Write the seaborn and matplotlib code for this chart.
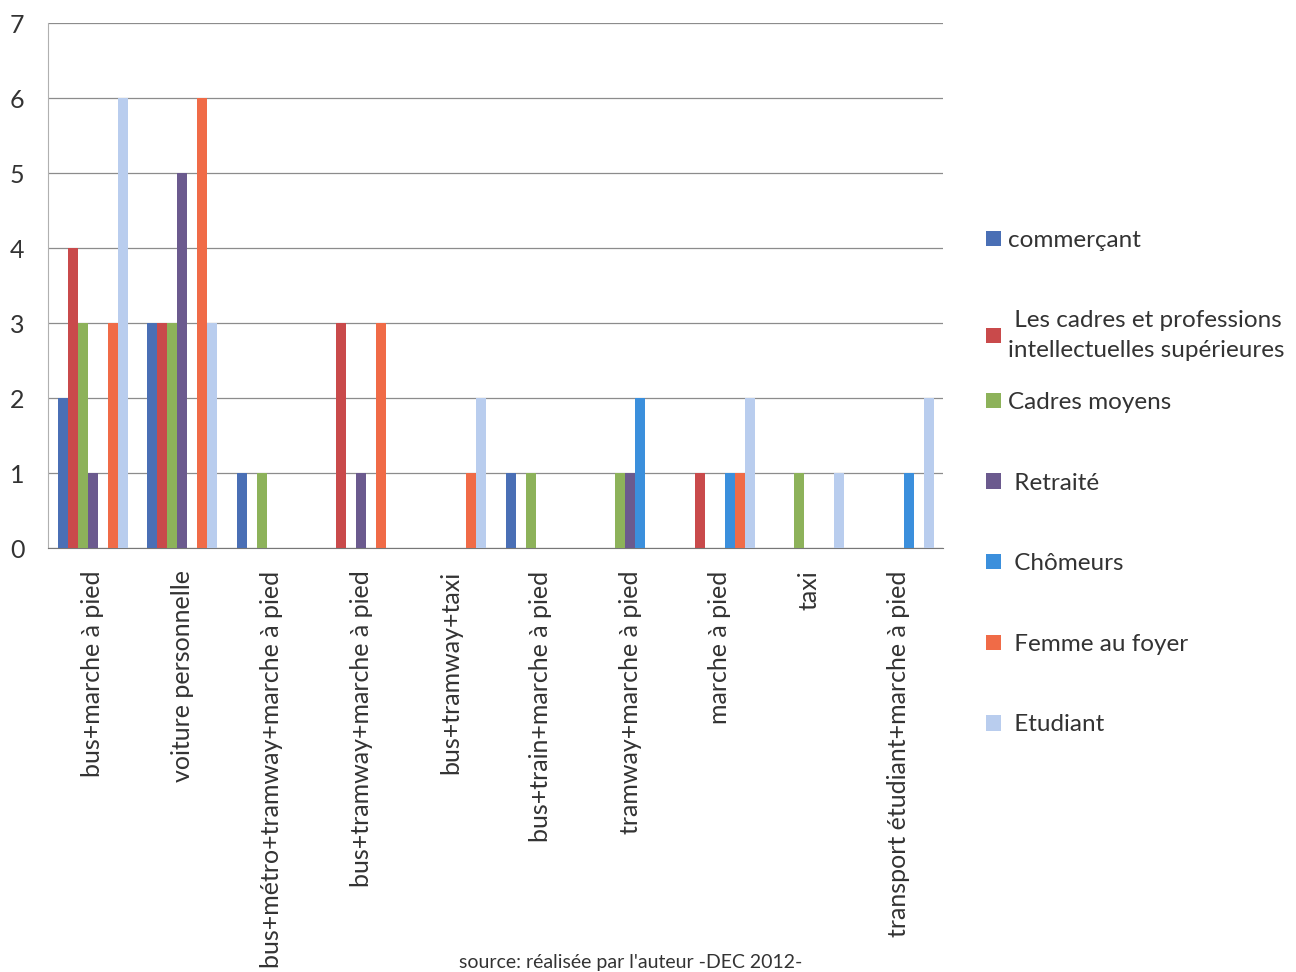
import pandas as pd
import numpy as np
import matplotlib
matplotlib.use('Agg')
import matplotlib.pyplot as plt
import seaborn as sns

# data
modes = ['bus+marche à pied', 'voiture personnelle', 'bus+métro+tramway+marche à pied',
         'bus+tramway+marche à pied', 'bus+tramway+taxi', 'bus+train+marche à pied',
         'tramway+marche à pied', 'marche à pied', 'taxi', 'transport étudiant+marche à pied']
profils = ['commerçant', ' Les cadres et professions\nintellectuelles supérieures', 'Cadres moyens',
           ' Retraité', ' Chômeurs', ' Femme au foyer', ' Etudiant']
commercant = [2, 3, 1, 0, 0, 1, 0, 0, 0, 0]
cadres_sup = [4, 3, 0, 3, 0, 0, 0, 1, 0, 0]
cadres_moyens = [3, 3, 1, 0, 0, 1, 1, 0, 1, 0]
retraite = [1, 5, 0, 1, 0, 0, 1, 0, 0, 0]
chomeurs = [0, 0, 0, 0, 0, 0, 2, 1, 0, 1]
femme_foyer = [3, 6, 0, 3, 1, 0, 0, 1, 0, 0]
etudiant = [6, 3, 0, 0, 2, 0, 0, 2, 1, 2]

colors = ['#4a6fb5', '#c94a4b', '#8db25a', '#6b5a8e', '#3b8fdc', '#f06b47', '#b9cdee']

series = [commercant, cadres_sup, cadres_moyens, retraite, chomeurs, femme_foyer, etudiant]
rows = []
for p, vals in zip(profils, series):
    for m, v in zip(modes, vals):
        rows.append({'mode': m, 'profil': p, 'n': v})
df = pd.DataFrame(rows)

sns.set_style('white')
plt.rcParams['font.family'] = ['Lato', 'DejaVu Sans']

fig = plt.figure(figsize=(12.96, 9.72), dpi=100)
ax = fig.add_axes([0.037, 0.436, 0.691, 0.540])

sns.barplot(data=df, x='mode', y='n', hue='profil', palette=colors, hue_order=profils,
            order=modes, width=0.78, saturation=1, errorbar=None, ax=ax, zorder=3,
            linewidth=0)

ax.set_ylim(0, 7)
ax.set_yticks(range(0, 8))
ax.set_xlim(-0.5, len(modes) - 0.5)
ax.yaxis.grid(True, color='#8c8c8c', linewidth=0.9, zorder=0)
ax.set_axisbelow(True)
ax.set_xlabel('')
ax.set_ylabel('')
ax.tick_params(axis='y', length=0, pad=17, labelsize=18, labelcolor='#333333')
ax.tick_params(axis='x', length=0, pad=16, labelsize=18, labelcolor='#333333')
plt.setp(ax.get_xticklabels(), rotation=90, va='top', ha='center')
for s in ['top', 'right']:
    ax.spines[s].set_visible(False)
ax.spines['left'].set_color('#b0b0b0')
ax.spines['bottom'].set_color('#777777')

# legend in two blocks, spacing like the original
ax.legend_.remove()
handles, labels = ax.get_legend_handles_labels()
kw = dict(loc='upper left', frameon=False, fontsize=17.5, handlelength=0.6, handleheight=0.6,
          handletextpad=0.3, labelspacing=2.45, labelcolor='#333333')
leg1 = fig.legend(handles[:2], labels[:2], bbox_to_anchor=(0.744, 0.786), **kw)
for t in leg1.get_texts():
    t.set_linespacing(1.5)
fig.legend(handles[2:], labels[2:], bbox_to_anchor=(0.744, 0.619), **kw)

fig.text(0.487, 0.001, "source: réalisée par l'auteur -DEC 2012-", ha='center', va='bottom',
         fontsize=14, color='#333333')

fig.savefig('out.png', dpi=100, facecolor='white')
